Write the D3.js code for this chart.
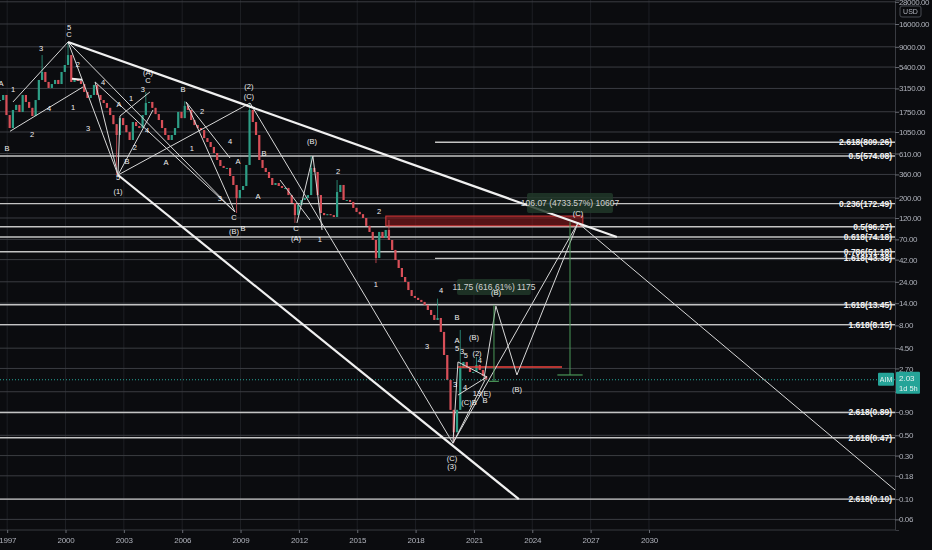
<!DOCTYPE html>
<html>
<head>
<meta charset="utf-8">
<script src="https://cdn.jsdelivr.net/npm/d3@7"></script>
<style>
html, body { margin: 0; padding: 0; background: #0b0c0f; overflow: hidden; }
svg { display: block; font-family: "Liberation Sans", Arial, sans-serif; }
.labels { opacity: 0.99; }
</style>
</head>
<body>
<svg id="chart" width="932" height="550"></svg>
<script>
// candles: two-month bars, open = previous close
const startYear = 1996.63;
const stepYears = 1 / 6;
const closes = [
  2350, 2670, 1610, 1160, 1830, 2080, 1740, 2670, 2240, 1930,
  1570, 2350, 3900, 4770, 3710, 3190, 3520, 3900, 3520, 4770,
  5690, 7310, 3710, 3900, 3800, 3520, 2880, 2475, 2670, 3440,
  2670, 2350, 2180, 1930, 1610, 1280, 973, 1490, 1250, 1046,
  858, 1350, 1220, 1160, 1610, 2180, 2240, 1930, 1650, 1420,
  1160, 973, 858, 973, 1160, 1740, 1490, 2030, 1830, 1420,
  1250, 1160, 1100, 900, 816, 720, 618, 518, 446, 424,
  424, 346, 276, 198, 243, 269, 457, 1830, 1350, 973,
  518, 424, 383, 329, 276, 290, 269, 256, 256, 214,
  175, 129, 167, 189, 199, 214, 424, 383, 214, 136,
  129, 132, 129, 123, 231, 276, 189, 189, 180, 155,
  140, 132, 120, 98.5, 84.4, 68.9, 43.8, 84.4, 72.5, 88.7,
  68.9, 53.6, 41.6, 34.0, 27.1, 23.9, 19.5, 16.8, 16.0, 15.2,
  14.45, 13.4, 11.8, 10.4, 9.17, 9.64, 6.78, 3.79, 2.02, 0.95,
  0.54, 0.95, 2.73, 3.18, 2.73, 2.47, 2.47, 2.95, 2.60, 2.23,
  2.03
];
// long wicks: [candle index, high, low]
const spikes = [
  [13, 7310, null], [21, 10160, null], [36, null, 355], [45, 2880, null],
  [57, 2280, null], [73, null, 136], [77, 2180, null], [91, null, 106],
  [96, 570, null], [104, 313, null], [116, null, 38.5], [120, 114, null],
  [135, 15.7, null], [140, null, 0.41], [142, 7.13, null], [147, 3.6, null]
];

const yTicks = [28000, 16000, 9000, 5400, 3150, 1750, 1050, 610, 360, 200, 120, 70, 42,
                24, 14, 8, 4.5, 2.7, 1.5, 0.9, 0.5, 0.3, 0.18, 0.1, 0.06];
const xTicks = [1997, 2000, 2003, 2006, 2009, 2012, 2015, 2018, 2021, 2024, 2027, 2030];

// fib levels: label, price, start year (null = whole chart)
const fibLevels = [
  ["2.618(809.26)", 809.26, 2019.0],
  ["0.5(574.08)", 574.08, null],
  ["0.236(172.49)", 172.49, null],
  ["0.5(96.27)", 96.27, null],
  ["0.618(74.18)", 74.18, null],
  ["0.786(51.18)", 51.18, null],
  ["1.618(43.38)", 43.38, 2019.0],
  ["1.618(13.45)", 13.45, null],
  ["1.618(8.15)", 8.15, null],
  ["2.618(0.89)", 0.89, null],
  ["2.618(0.47)", 0.47, null],
  ["2.618(0.10)", 0.10, null]
];

// trend lines as [year, price] pairs
const thickLines = [
  [[2000.13, 10160], [2028.35, 74.3]],
  [[2002.70, 355], [2023.31, 0.10]],
  [[2000.33, 4020], [2000.85, 3920]]
];
const thinLines = [
  [[1997.30, 2240], [2000.13, 10160]],
  [[1997.15, 1070], [2000.90, 3270]],
  [[2000.13, 10160], [2002.70, 355]],
  [[2000.13, 10160], [2008.71, 140]],
  [[2001.52, 3710], [2002.70, 355]],
  [[2001.52, 3710], [2008.71, 140]],
  [[2002.80, 1570], [2004.34, 2880]],
  [[2002.80, 1570], [2002.70, 355]],
  [[2002.70, 355], [2004.50, 1830]],
  [[2002.70, 355], [2009.49, 2180]],
  [[2006.20, 2240], [2008.71, 140]],
  [[2006.20, 2240], [2008.46, 545]],
  [[2009.49, 2180], [2019.92, 0.41]],
  [[2011.90, 106], [2012.72, 573]],
  [[2012.72, 573], [2013.19, 88.7]],
  [[2011.03, 313], [2012.57, 114]],
  [[2019.92, 0.41], [2020.18, 3.18]],
  [[2020.18, 3.18], [2021.67, 2.18]],
  [[2020.18, 1.38], [2021.67, 2.18]],
  [[2019.92, 0.41], [2021.57, 2.02]],
  [[2019.92, 0.41], [2026.35, 106]],
  [[2026.35, 106], [2042.65, 0.126]]
];
const projection = [[2021.5, 2.0], [2022.13, 13.0], [2023.21, 2.29], [2026.35, 106]];

const waveLabels = [
  [1996.68, 3610, "A"], [1997.30, 3100, "1"], [1996.99, 684, "B"], [1998.28, 998, "2"],
  [1998.74, 8730, "3"], [1999.15, 1920, "4"], [2000.18, 14800, "5"], [2000.18, 12400, "C"],
  [2000.39, 1970, "1"], [2000.64, 5830, "2"], [2001.16, 1160, "3"], [2001.93, 3700, "4"],
  [2002.70, 337, "5"], [2002.70, 237, "(1)"], [2002.75, 2075, "A"], [2003.37, 2415, "1"],
  [2003.16, 505, "B"], [2003.57, 719, "2"], [2003.98, 3030, "3"], [2004.19, 1104, "4"],
  [2004.24, 4650, "(A)"], [2004.24, 3800, "C"], [2005.17, 492, "A"], [2006.04, 3100, "B"],
  [2006.50, 684, "1"], [2007.02, 1740, "2"], [2008.46, 817, "4"], [2008.87, 505, "A"],
  [2007.94, 194, "3"], [2008.66, 120, "C"], [2008.66, 84.3, "(B)"], [2009.13, 91, "B"],
  [2009.43, 3270, "(2)"], [2009.43, 2600, "(C)"], [2010.21, 618, "B"], [2009.90, 204, "A"],
  [2012.68, 817, "(B)"], [2011.85, 91, "C"], [2011.85, 72.4, "(A)"], [2013.08, 68.9, "1"],
  [2014.01, 383, "2"], [2016.12, 140, "2"], [2015.96, 22.7, "1"], [2019.31, 19.5, "4"],
  [2020.13, 9.64, "B"], [2018.59, 4.75, "3"], [2021.0, 5.82, "(B)"], [2020.13, 5.40, "A"],
  [2020.13, 4.52, "5"], [2020.39, 4.19, "3"], [2020.59, 3.70, "5"], [2021.16, 3.98, "(2)"],
  [2021.31, 3.26, "4"], [2020.03, 1.82, "3"], [2020.54, 1.65, "4"], [2020.75, 1.13, "(C)B"],
  [2021.41, 1.42, "13(E)"], [2021.57, 1.19, "B"], [2023.21, 1.57, "(B)"], [2022.13, 18.1, "(B)"],
  [2026.35, 136, "(C)"], [2019.87, 0.282, "(C)"], [2019.87, 0.225, "(3)"]
];

const redZone = { from: 2016.47, to: 2026.6, top: 126, bottom: 98.5 };
const redLine = { from: 2020.18, to: 2025.53, price: 2.8 };
const measures = [
  { at: 2022.03, top: 13.4, bottom: 1.95, half: 0.25, text: "11.75 (616.61%) 1175",
    box: [2020.13, 2023.93, 25.7, 17.2] },
  { at: 2025.94, top: 108, bottom: 2.29, half: 0.65, text: "106.07 (4733.57%) 10607",
    box: [2023.73, 2028.15, 225, 136] }
];
const lastPrice = 2.03;
const ticker = "AIM";
const countdown = "1d 5h";

// ---- chart ----
const plotW = 895, plotH = 530;
const axisFont = "Liberation Sans, Arial, sans-serif";
const svg = d3.select("#chart");

const x = d3.scaleLinear().domain([1996.632, 2042.65]).range([0, plotW]);
const y = d3.scaleLog().domain([29300, 0.0459]).range([0, plotH]);

svg.append("rect").attr("width", 932).attr("height", 550).attr("fill", "#0b0c0f");

svg.append("defs").append("clipPath").attr("id", "plot")
  .append("rect").attr("width", plotW).attr("height", plotH);

const grid = svg.append("g");
grid.selectAll(".vg").data(xTicks).enter().append("line")
  .attr("x1", d => x(d)).attr("x2", d => x(d))
  .attr("y1", 0).attr("y2", plotH)
  .attr("stroke", "#1d1f24").attr("stroke-width", 1);
grid.selectAll(".hg").data(yTicks).enter().append("line")
  .attr("x1", 0).attr("x2", plotW)
  .attr("y1", d => y(d)).attr("y2", d => y(d))
  .attr("stroke", "#3b3d42").attr("stroke-width", 1);

const main = svg.append("g").attr("clip-path", "url(#plot)");

// fib levels
main.selectAll(".fib").data(fibLevels).enter().append("line")
  .attr("x1", d => d[2] === null ? 0 : x(d[2])).attr("x2", plotW)
  .attr("y1", d => y(d[1])).attr("y2", d => y(d[1]))
  .attr("stroke", "#c4c4c4").attr("stroke-width", 1.4);

// red zone
main.append("rect")
  .attr("x", x(redZone.from)).attr("width", x(redZone.to) - x(redZone.from))
  .attr("y", y(redZone.top)).attr("height", y(redZone.bottom) - y(redZone.top))
  .attr("fill", "rgba(150,25,30,0.55)").attr("stroke", "#d83a3a").attr("stroke-width", 1);

// candles
const candles = closes.map((c, i) => {
  const o = i === 0 ? c : closes[i - 1];
  let hi = Math.max(o, c), lo = Math.min(o, c);
  spikes.forEach(s => {
    if (s[0] === i) {
      if (s[1] !== null) hi = Math.max(hi, s[1]);
      if (s[2] !== null) lo = Math.min(lo, s[2]);
    }
  });
  return { t: startYear + i * stepYears, o: o, c: c, hi: hi, lo: lo };
});
const cg = main.append("g");
const colorOf = d => d.c >= d.o ? "#2e9e86" : "#d84f58";
cg.selectAll(".wick").data(candles).enter().append("line")
  .attr("x1", d => x(d.t)).attr("x2", d => x(d.t))
  .attr("y1", d => y(d.hi)).attr("y2", d => y(d.lo))
  .attr("stroke", colorOf).attr("stroke-width", 0.8);
cg.selectAll(".body").data(candles).enter().append("rect")
  .attr("x", d => x(d.t) - 1.1).attr("width", 2.2)
  .attr("y", d => y(Math.max(d.o, d.c)))
  .attr("height", d => Math.max(1, Math.abs(y(d.o) - y(d.c))))
  .attr("fill", colorOf);

// red line and last price line
main.append("line")
  .attr("x1", x(redLine.from)).attr("x2", x(redLine.to))
  .attr("y1", y(redLine.price)).attr("y2", y(redLine.price))
  .attr("stroke", "#f0453f").attr("stroke-width", 1.6);
main.append("line")
  .attr("x1", 0).attr("x2", plotW)
  .attr("y1", y(lastPrice)).attr("y2", y(lastPrice))
  .attr("stroke", "#26a69a").attr("stroke-width", 1).attr("stroke-dasharray", "1,2");

// drawings
const line = d3.line().x(d => x(d[0])).y(d => y(d[1]));
main.selectAll(".thin").data(thinLines).enter().append("path")
  .attr("d", line).attr("fill", "none")
  .attr("stroke", "#d8d8d8").attr("stroke-width", 1);
main.append("path").datum(projection).attr("d", line).attr("fill", "none")
  .attr("stroke", "#d8d8d8").attr("stroke-width", 1);
main.selectAll(".thick").data(thickLines).enter().append("path")
  .attr("d", line).attr("fill", "none")
  .attr("stroke", "#f0f0f0").attr("stroke-width", 2.2);

// measure tools
measures.forEach(m => {
  const g = main.append("g").attr("class", "labels");
  g.append("line").attr("x1", x(m.at)).attr("x2", x(m.at))
    .attr("y1", y(m.top)).attr("y2", y(m.bottom))
    .attr("stroke", "#4c9a5a").attr("stroke-width", 1);
  g.append("line").attr("x1", x(m.at - m.half)).attr("x2", x(m.at + m.half))
    .attr("y1", y(m.bottom)).attr("y2", y(m.bottom))
    .attr("stroke", "#4c9a5a").attr("stroke-width", 1.2);
  g.append("rect").attr("x", x(m.box[0])).attr("width", x(m.box[1]) - x(m.box[0]))
    .attr("y", y(m.box[2])).attr("height", y(m.box[3]) - y(m.box[2]))
    .attr("rx", 2).attr("fill", "rgba(34,58,42,0.85)");
  g.append("text").attr("x", (x(m.box[0]) + x(m.box[1])) / 2)
    .attr("y", (y(m.box[2]) + y(m.box[3])) / 2)
    .attr("text-anchor", "middle").attr("dominant-baseline", "central")
    .attr("font-size", 8.5).attr("fill", "#d4d4d4").text(m.text);
});

// wave labels
const wl = main.append("g").attr("class", "labels");
wl.selectAll(".wave").data(waveLabels).enter().append("text")
  .attr("x", d => x(d[0])).attr("y", d => y(d[1]))
  .attr("text-anchor", "middle").attr("dominant-baseline", "central")
  .attr("font-size", 7.5).attr("fill", "#f2f2f2").text(d => d[2]);

// fib labels
const fl = main.append("g").attr("class", "labels");
fl.selectAll(".fibt").data(fibLevels).enter().append("text")
  .attr("x", plotW - 3).attr("y", d => y(d[1]))
  .attr("text-anchor", "end").attr("dominant-baseline", "central")
  .attr("font-size", 8.5).attr("font-weight", "bold").attr("fill", "#f4f4f4")
  .text(d => d[0]);

// axes
const yAxis = d3.axisRight(y).tickValues(yTicks).tickSize(4)
  .tickFormat(d => d === 1.5 ? "" : d.toFixed(2));
const ya = svg.append("g").attr("class", "labels")
  .attr("transform", "translate(" + plotW + ",0)").call(yAxis);
const xAxis = d3.axisBottom(x).tickValues(xTicks).tickSize(3).tickFormat(d => d);
const xa = svg.append("g").attr("class", "labels")
  .attr("transform", "translate(0," + plotH + ")").call(xAxis);
[ya, xa].forEach(a => {
  a.select(".domain").attr("stroke", "#3a3c42");
  a.selectAll(".tick line").attr("stroke", "#6a6d75");
  a.selectAll("text").attr("fill", "#b2b5be").attr("font-size", 8)
    .attr("font-family", axisFont);
});
ya.selectAll("text").attr("x", 4).attr("letter-spacing", -0.4);
xa.selectAll("text").attr("y", 7).attr("letter-spacing", -0.2);
xa.select(".domain").attr("d", "M0,0H" + plotW);

// currency tag
const tags = svg.append("g").attr("class", "labels");
tags.append("rect").attr("x", 900).attr("y", 6).attr("width", 21).attr("height", 11)
  .attr("rx", 2).attr("fill", "#0b0c0f").attr("stroke", "#4a4d55");
tags.append("text").attr("x", 910.5).attr("y", 11.8).attr("text-anchor", "middle")
  .attr("dominant-baseline", "central").attr("font-size", 7)
  .attr("font-family", axisFont).attr("fill", "#b2b5be").text("USD");

// last price tags
const py = y(lastPrice);
tags.append("rect").attr("x", 878).attr("y", py - 7).attr("width", 16).attr("height", 13)
  .attr("rx", 1).attr("fill", "#26a69a");
tags.append("text").attr("x", 886).attr("y", py - 0.5).attr("text-anchor", "middle")
  .attr("dominant-baseline", "central").attr("font-size", 7)
  .attr("font-family", axisFont).attr("fill", "#e8f5f3").text(ticker);
tags.append("rect").attr("x", 896).attr("y", py - 8).attr("width", 24).attr("height", 22)
  .attr("rx", 1).attr("fill", "#26a69a");
tags.append("text").attr("x", 899).attr("y", py - 1.5)
  .attr("dominant-baseline", "central").attr("font-size", 8)
  .attr("font-family", axisFont).attr("fill", "#e8f5f3").text(lastPrice.toFixed(2));
tags.append("text").attr("x", 899).attr("y", py + 8.5)
  .attr("dominant-baseline", "central").attr("font-size", 7.5)
  .attr("font-family", axisFont).attr("fill", "#e8f5f3").text(countdown);
</script>
</body>
</html>
